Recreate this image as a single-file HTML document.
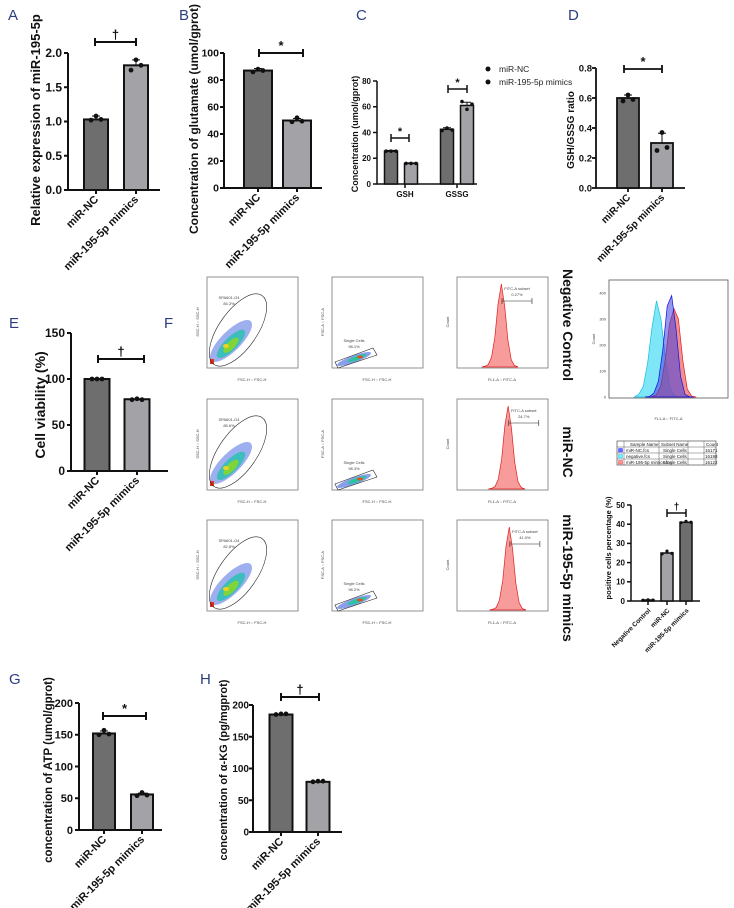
<!DOCTYPE html>
<html><head><meta charset="utf-8">
<style>
html,body{margin:0;padding:0;background:#fff;}
svg{display:block;font-family:"Liberation Sans",Arial,sans-serif;}
.lt{fill:#2b3e80;font-size:15px;}
.xl{font-weight:bold;fill:#111;}
</style></head>
<body>
<svg id="fig" width="734" height="908" viewBox="0 0 734 908" xmlns="http://www.w3.org/2000/svg">
<text class="lt" x="8" y="20">A</text>
<text class="lt" x="179" y="20">B</text>
<text class="lt" x="356" y="20">C</text>
<text class="lt" x="568" y="20">D</text>
<text class="lt" x="9" y="328">E</text>
<text class="lt" x="164" y="328">F</text>
<text class="lt" x="9" y="684">G</text>
<text class="lt" x="200" y="684">H</text>

<text class="xl" font-size="13" transform="translate(40,120) rotate(-90)" text-anchor="middle">Relative expression of miR-195-5p</text>
<text class="xl" font-size="12" transform="translate(198,119) rotate(-90)" text-anchor="middle">Concentration of glutamate (umol/gprot)</text>
<text class="xl" font-size="9" transform="translate(358,134) rotate(-90)" text-anchor="middle">Concentration (umol/gprot)</text>
<text class="xl" font-size="10" transform="translate(574,130) rotate(-90)" text-anchor="middle">GSH/GSSG ratio</text>
<text class="xl" font-size="14" transform="translate(45,405) rotate(-90)" text-anchor="middle">Cell  viability (%)</text>
<text class="xl" font-size="11.5" transform="translate(52,770) rotate(-90)" text-anchor="middle">concentration of ATP (umol/gprot)</text>
<text class="xl" font-size="11" transform="translate(227,770) rotate(-90)" text-anchor="middle">concentration of α-KG (pg/mgprot)</text>
<text class="xl" font-size="7.5" transform="translate(611,548) rotate(-90)" text-anchor="middle">positive cells percentage  (%)</text>

<g>
<circle cx="488" cy="69" r="2.5" fill="#111"/>
<text x="499" y="72" font-size="8.5" fill="#222">miR-NC</text>
<circle cx="488" cy="82" r="2.5" fill="#111"/>
<text x="499" y="85" font-size="8.5" fill="#222">miR-195-5p mimics</text>
</g>

<g font-weight="bold" font-size="14" fill="#111">
<text transform="translate(563,325) rotate(90)" text-anchor="middle">Negative Control</text>
<text transform="translate(563,452) rotate(90)" text-anchor="middle">miR-NC</text>
<text transform="translate(563,578) rotate(90)" text-anchor="middle">miR-195-5p mimics</text>
</g>

<g id="flow"></g>
<g id="bars"></g>

<g font-size="4.5" fill="#222">
<rect x="617" y="441" width="99" height="24" fill="#fff" stroke="#333" stroke-width="0.6"/>
<line x1="617" y1="447" x2="716" y2="447" stroke="#333" stroke-width="0.4"/>
<line x1="617" y1="453" x2="716" y2="453" stroke="#333" stroke-width="0.4"/>
<line x1="617" y1="459" x2="716" y2="459" stroke="#333" stroke-width="0.4"/>
<line x1="624" y1="441" x2="624" y2="465" stroke="#333" stroke-width="0.4"/>
<line x1="659" y1="441" x2="659" y2="465" stroke="#333" stroke-width="0.4"/>
<line x1="688" y1="441" x2="688" y2="465" stroke="#333" stroke-width="0.4"/>
<line x1="704" y1="441" x2="704" y2="465" stroke="#333" stroke-width="0.4"/>
<text x="630" y="446">Sample Name</text><text x="661" y="446">Subset Name</text><text x="706" y="446">Count</text>
<rect x="618.5" y="448.5" width="4" height="3.5" fill="#6a6aff" stroke="#22f" stroke-width="0.4"/>
<text x="626" y="452">miR-NC.fcs</text><text x="663" y="452">Single Cells</text><text x="705" y="452">16171</text>
<rect x="618.5" y="454.5" width="4" height="3.5" fill="#7ef" stroke="#0bd" stroke-width="0.4"/>
<text x="626" y="458">negative.fcs</text><text x="663" y="458">Single Cells</text><text x="705" y="458">16198</text>
<rect x="618.5" y="460.5" width="4" height="3.5" fill="#f99" stroke="#e22" stroke-width="0.4"/>
<text x="626" y="464">miR-195-5p mimics.fcs</text><text x="663" y="464">Single Cells</text><text x="705" y="464">16122</text>
</g>
</svg>
<script>
// ===== Bar chart data =====
const catsAB = ["miR-NC", "miR-195-5p mimics"];
const valsA = [1.03, 1.82];
const errsA = [0.05, 0.08];
const ptsA = [[1.02, 1.08, 1.03], [1.75, 1.90, 1.82]];
const ticksA = [0, 0.5, 1.0, 1.5, 2.0];
const valsB = [87, 50];
const errsB = [1.5, 1.5];
const ptsB = [[86, 88, 87], [49, 52, 49.5]];
const ticksB = [0, 20, 40, 60, 80, 100];
const catsC = ["GSH", "GSSG"];
const valsCnc = [25.5, 42.5];
const valsCmim = [16, 61];
const errsCnc = [0.6, 1.2];
const errsCmim = [0.4, 2.5];
const ticksC = [0, 20, 40, 60, 80];
const valsD = [0.60, 0.30];
const errsD = [0.02, 0.065];
const ptsD = [[0.58, 0.62, 0.59], [0.25, 0.37, 0.27]];
const ticksD = [0, 0.2, 0.4, 0.6, 0.8];
const valsE = [100, 78];
const ptsE = [[100, 100, 100], [77.5, 78.5, 77.5]];
const ticksE = [0, 50, 100, 150];
const catsF = ["Negative Control", "miR-NC", "miR-195-5p mimics"];
const valsF = [0.5, 25, 41];
const ptsF = [[0.4, 0.6, 0.5], [24.5, 26, 24.8], [40.8, 41.5, 41]];
const ticksF = [0, 10, 20, 30, 40, 50];
const valsG = [152, 56];
const errsG = [4, 2];
const ptsG = [[150, 157, 151], [54, 59, 55]];
const ticksG = [0, 50, 100, 150, 200];
const valsH = [185, 79];
const ptsH = [[185, 186, 186], [79, 80, 80]];
const ticksH = [0, 50, 100, 150, 200];
// flow histograms (counts per bin), peak positions (log units)
const histBins = [0, 3, 10, 40, 120, 260, 340, 250, 110, 30, 6, 1];
const histPeaks = [2.9, 3.5, 3.6];
const gatePct = ["0.27%", "24.7%", "41.0%"];
const gateNames = ["SPA601-O4", "SPA601-O4", "SPA601-O4"];
const gateScatterPct = ["84.3%", "85.6%", "82.8%"];
const singlePct = ["98.1%", "98.3%", "98.2%"];
const overlayCyan = [0, 10, 40, 130, 270, 370, 300, 150, 40, 5, 0, 0];
const overlayBlue = [0, 2, 15, 60, 180, 350, 390, 260, 80, 10, 1, 0];
const overlayRed = [0, 1, 8, 40, 140, 280, 340, 300, 140, 30, 3, 0];
const overlayPeaks = [2.6, 3.3, 3.45];

const NS = "http://www.w3.org/2000/svg";
function el(tag, attrs, parent) {
  const e = document.createElementNS(NS, tag);
  for (const k in attrs) e.setAttribute(k, attrs[k]);
  parent.appendChild(e);
  return e;
}
const barsG = document.getElementById("bars");
const DARK = "#6e6e6e", LIGHT = "#a3a3a7";

function chart(cfg) {
  const g = el("g", {}, barsG);
  
  
  const y = v => cfg.y0 - (v / cfg.max) * (cfg.y0 - cfg.yTop);
  const sw = cfg.sw || 2;
  const ax = el("path", {d: `M${cfg.ax},${cfg.yTop} V${cfg.y0} H${cfg.xEnd}`, fill: "none", stroke: "#111", "stroke-width": sw}, g);
  
  
  cfg.ticks.forEach(t => {
    el("line", {x1: cfg.ax - 4, x2: cfg.ax, y1: y(t), y2: y(t), stroke: "#111", "stroke-width": sw}, g);
    const tx = el("text", {x: cfg.ax - (cfg.tg || 6), y: y(t) + cfg.fs * 0.35, "text-anchor": "end", "font-size": cfg.fs, "font-weight": "bold", fill: "#111"}, g);
    
    
    tx.textContent = cfg.fmt ? cfg.fmt(t) : t;
  });
  cfg.series.forEach((s, si) => {
    s.vals.forEach((v, i) => {
      const cx = s.centers[i];
      const r = el("rect", {x: cx - cfg.bw / 2, y: y(v), width: cfg.bw, height: cfg.y0 - y(v), fill: s.colors ? s.colors[i] : s.color, stroke: "#111", "stroke-width": sw}, g);
      
      
      if (s.errs) {
        const e = s.errs[i];
        el("path", {d: `M${cx},${y(v)} V${y(v + e)} M${cx - 4},${y(v + e)} H${cx + 4}`, stroke: "#111", "stroke-width": 1, fill: "none"}, g);
      }
      if (s.pts) {
        s.pts[i].forEach((p, j) => {
          const c = el("circle", {cx: cx + (j - 1) * 5, cy: y(p), r: cfg.pr || 2.4, fill: "#111"}, g);
          
          
        });
      }
    });
  });
  cfg.cats.forEach((c, i) => {
    const cx = cfg.catX[i];
    el("line", {x1: cx, x2: cx, y1: cfg.y0, y2: cfg.y0 + 4, stroke: "#111", "stroke-width": sw}, g);
    const tx = el("text", {"text-anchor": cfg.rot ? "end" : "middle", "font-size": cfg.xfs, "font-weight": "bold", fill: "#111",
      transform: cfg.rot ? `translate(${cx + 3},${cfg.y0 + 10}) rotate(-45)` : `translate(${cx},${cfg.y0 + 13})`}, g);
    
    
    tx.textContent = c;
  });
  (cfg.brackets || []).forEach(b => {
    el("path", {d: `M${b[0]},${b[2] - 4} V${b[2] + 4} M${b[0]},${b[2]} H${b[1]} M${b[1]},${b[2] - 4} V${b[2] + 4}`, stroke: "#111", "stroke-width": sw, fill: "none"}, g);
    const t = el("text", {x: (b[0] + b[1]) / 2, y: b[2] - 3, "text-anchor": "middle", "font-size": b[4] || 13, "font-weight": "bold", fill: "#111"}, g);
    
    
    t.textContent = b[3];
  });
}
const f1 = t => t.toFixed(1);
chart({name: "chart-a", ax: 68, yTop: 53, y0: 190, max: 2.0, ticks: ticksA, fmt: f1, fs: 12, xEnd: 160, bw: 24, cats: catsAB, catX: [96, 136], rot: 1, xfs: 11,
  series: [{vals: valsA, errs: errsA, pts: ptsA, colors: [DARK, LIGHT], centers: [96, 136]}], brackets: [[95, 136, 42, "†"]]});
chart({name: "chart-b", ax: 224, yTop: 53, y0: 188, max: 100, ticks: ticksB, fs: 10.5, tg: 5, xEnd: 322, bw: 28, cats: catsAB, catX: [258, 297], rot: 1, xfs: 11,
  series: [{vals: valsB, errs: errsB, pts: ptsB, colors: [DARK, LIGHT], centers: [258, 297]}], brackets: [[259, 303, 53, "*"]]});
chart({name: "chart-c", ax: 377, yTop: 81, y0: 184, max: 80, ticks: ticksC, fs: 8, xEnd: 477, bw: 13, sw: 1.5, pr: 1.8, cats: catsC, catX: [405, 457], xfs: 8,
  series: [{vals: valsCnc, errs: errsCnc, pts: [[25.5, 25.5, 25.5], [41.5, 43.5, 42]], color: DARK, centers: [391, 447]},
           {vals: valsCmim, errs: errsCmim, pts: [[16, 16, 16], [64, 58, 62]], color: LIGHT, centers: [411, 467]}],
  brackets: [[391, 409, 138, "*", 11], [448, 467, 89, "*", 11]]});
chart({name: "chart-d", ax: 596, yTop: 68, y0: 188, max: 0.8, ticks: ticksD, fmt: f1, fs: 9.5, tg: 4, xEnd: 685, bw: 22, sw: 1.8, cats: catsAB, catX: [628, 662], rot: 1, xfs: 10,
  series: [{vals: valsD, errs: errsD, pts: ptsD, colors: [DARK, LIGHT], centers: [628, 662]}], brackets: [[624, 662, 69, "*"]]});
chart({name: "chart-e", ax: 71, yTop: 333, y0: 471, max: 150, ticks: ticksE, fs: 12, xEnd: 168, bw: 25, cats: catsAB, catX: [97, 137], rot: 1, xfs: 11,
  series: [{vals: valsE, pts: ptsE, colors: [DARK, LIGHT], centers: [97, 137]}], brackets: [[98, 144, 359, "†"]]});
chart({name: "chart-f-positive-cells", ax: 631, yTop: 505, y0: 601, max: 50, ticks: ticksF, fs: 8, xEnd: 700, bw: 12, sw: 1.5, pr: 1.6, cats: catsF, catX: [648, 667, 686], rot: 1, xfs: 6.5,
  series: [{vals: valsF, pts: ptsF, colors: ["#8a8a8e", LIGHT, DARK], centers: [648, 667, 686]}], brackets: [[667, 686, 513, "†", 10]]});
chart({name: "chart-g", ax: 79, yTop: 703, y0: 830, max: 200, ticks: ticksG, fs: 11, xEnd: 162, bw: 22, cats: catsAB, catX: [104, 142], rot: 1, xfs: 11,
  series: [{vals: valsG, errs: errsG, pts: ptsG, colors: [DARK, LIGHT], centers: [104, 142]}], brackets: [[103, 146, 716, "*"]]});
chart({name: "chart-h", ax: 253, yTop: 705, y0: 832, max: 200, ticks: ticksH, fs: 10, tg: 4, xEnd: 342, bw: 23, cats: catsAB, catX: [281, 318], rot: 1, xfs: 11,
  series: [{vals: valsH, pts: ptsH, colors: [DARK, LIGHT], centers: [281, 318]}], brackets: [[281, 319, 697, "†"]]});

// ===== Flow panels =====
const flow = document.getElementById("flow");
const rowsY = [277, 399, 520];
const colsX = [207, 332, 457];
const W = 91, H = 91;
function tiny(x, y, t, parent, anchor, rot) {
  const e = el("text", {x: x, y: y, "font-size": 4, fill: "#444", "text-anchor": anchor || "start"}, parent);
  if (rot) e.setAttribute("transform", `rotate(-90 ${x} ${y})`);
  e.textContent = t;
  return e;
}
function histPath(bins, peak, x0, w, y0, h, maxC) {
  const n = bins.length, span = 1.6;
  const xs = v => x0 + 10 + (v / 7) * (w - 12);
  let d = `M${xs(peak - span)},${y0}`;
  bins.forEach((c, i) => {
    const v = peak - span + (2 * span * i) / (n - 1);
    d += ` L${xs(v)},${y0 - (c / maxC) * h}`;
  });
  d += ` L${xs(peak + span)},${y0} Z`;
  return d;
}
rowsY.forEach((ry, r) => {
  const row = el("g", {}, flow);
  
  
  let x = colsX[0];
  const p1 = el("g", {}, row);
  
  
  el("rect", {x: x, y: ry, width: W, height: H, fill: "#fff", stroke: "#777", "stroke-width": 0.8}, p1);
  const bx = x + 24, by = ry + 64;
  el("ellipse", {cx: bx, cy: by, rx: 28, ry: 10, fill: "#3b5fe0", opacity: 0.5, transform: `rotate(-45 ${bx} ${by})`}, p1);
  el("ellipse", {cx: bx - 2, cy: by + 2, rx: 19, ry: 6.5, fill: "#27c0b0", opacity: 0.8, transform: `rotate(-45 ${bx} ${by})`}, p1);
  el("ellipse", {cx: bx - 3, cy: by + 3, rx: 10, ry: 4, fill: "#7fd43a", transform: `rotate(-45 ${bx} ${by})`}, p1);
  el("ellipse", {cx: bx - 5, cy: by + 5, rx: 3, ry: 2, fill: "#f0d020"}, p1);
  el("rect", {x: x + 3, y: ry + 82, width: 4, height: 5, fill: "#e03020"}, p1);
  el("ellipse", {cx: x + 31, cy: ry + 53, rx: 42, ry: 19, fill: "none", stroke: "#222", "stroke-width": 0.6, transform: `rotate(-55 ${x + 31} ${ry + 53})`}, p1);
  tiny(x + 22, ry + 22, gateNames[r], p1, "middle");
  tiny(x + 22, ry + 28, gateScatterPct[r], p1, "middle");
  tiny(x + 45, ry + 104, "FSC-H :: FSC-H", p1, "middle");
  tiny(x - 8, ry + 45, "SSC-H :: SSC-H", p1, "middle", 1);
  x = colsX[1];
  const p2 = el("g", {}, row);
  
  
  el("rect", {x: x, y: ry, width: W, height: H, fill: "#fff", stroke: "#777", "stroke-width": 0.8}, p2);
  el("ellipse", {cx: x + 22, cy: ry + 82, rx: 18, ry: 3.5, fill: "#3b5fe0", opacity: 0.6, transform: `rotate(-20 ${x + 22} ${ry + 82})`}, p2);
  el("ellipse", {cx: x + 25, cy: ry + 81, rx: 10, ry: 2.2, fill: "#2cc4a0", transform: `rotate(-20 ${x + 25} ${ry + 81})`}, p2);
  el("ellipse", {cx: x + 28, cy: ry + 80, rx: 3, ry: 1.5, fill: "#e05020"}, p2);
  el("polygon", {points: `${x + 3},${ry + 85} ${x + 41},${ry + 71} ${x + 45},${ry + 78} ${x + 6},${ry + 91}`, fill: "none", stroke: "#222", "stroke-width": 0.6}, p2);
  tiny(x + 22, ry + 65, "Single Cells", p2, "middle");
  tiny(x + 22, ry + 71, singlePct[r], p2, "middle");
  tiny(x + 45, ry + 104, "FSC-H :: FSC-H", p2, "middle");
  tiny(x - 8, ry + 45, "FSC-A :: FSC-A", p2, "middle", 1);
  x = colsX[2];
  const p3 = el("g", {}, row);
  
  
  el("rect", {x: x, y: ry, width: W, height: H, fill: "#fff", stroke: "#777", "stroke-width": 0.8}, p3);
  const hp = el("path", {d: histPath(histBins, histPeaks[r], x, W, ry + H - 1, 83, 340), fill: "#f47a7a", "fill-opacity": 0.75, stroke: "#e02020", "stroke-width": 0.7}, p3);
  
  
  const gx0 = x + 10 + (histPeaks[r] + 0.2) / 7 * (W - 12);
  el("path", {d: `M${gx0},${ry + 24} H${gx0 + 30} M${gx0},${ry + 21} V${ry + 27} M${gx0 + 30},${ry + 21} V${ry + 27}`, stroke: "#222", "stroke-width": 0.6, fill: "none"}, p3);
  tiny(gx0 + 15, ry + 13, "FITC-A subset", p3, "middle");
  tiny(gx0 + 15, ry + 19, gatePct[r], p3, "middle");
  tiny(x + 45, ry + 104, "FL1-A :: FITC-A", p3, "middle");
  tiny(x - 8, ry + 45, "Count", p3, "middle", 1);
});
(function () {
  const g = el("g", {}, flow);
  
  
  const x = 609, y = 280, w = 119, h = 118;
  el("rect", {x: x, y: y, width: w, height: h, fill: "#fff", stroke: "#555", "stroke-width": 0.8}, g);
  const cyan = el("path", {d: histPath(overlayCyan, overlayPeaks[0], x, w, y + h - 1, 104, 400), fill: "#5fe0f5", "fill-opacity": 0.8, stroke: "#10c0e0", "stroke-width": 0.7}, g);
  
  
  const red = el("path", {d: histPath(overlayRed, overlayPeaks[2], x, w, y + h - 1, 104, 400), fill: "#f06060", "fill-opacity": 0.7, stroke: "#e02020", "stroke-width": 0.7}, g);
  
  
  const blue = el("path", {d: histPath(overlayBlue, overlayPeaks[1], x, w, y + h - 1, 104, 400), fill: "#4040e0", "fill-opacity": 0.55, stroke: "#1010e0", "stroke-width": 0.7}, g);
  
  
  [0, 100, 200, 300, 400].forEach(c => tiny(x - 3, y + h - 1 - c / 400 * 104 + 1.5, String(c), g, "end"));
  tiny(x + w / 2, y + h + 22, "FL1-A :: FITC-A", g, "middle");
  tiny(x - 14, y + h / 2, "Count", g, "middle", 1);
})();
</script>
</body></html>
